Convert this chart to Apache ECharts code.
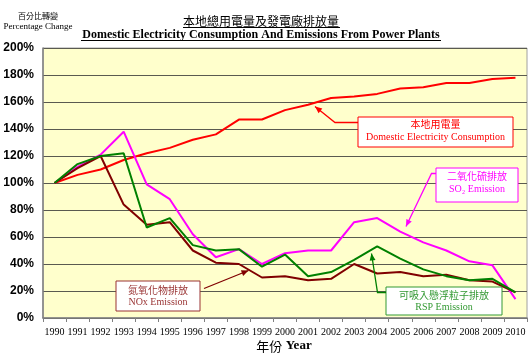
<!DOCTYPE html>
<html><head><meta charset="utf-8">
<script src="https://cdn.jsdelivr.net/npm/echarts@6/dist/echarts.min.js"></script>
<style>html,body{margin:0;padding:0;background:#fff}#c{width:530px;height:360px}</style>
</head><body><div id="c"></div>
<script>
var years = ['1990','1991','1992','1993','1994','1995','1996','1997','1998','1999','2000','2001','2002','2003','2004','2005','2006','2007','2008','2009','2010'];
var electricity = [100,106,110,117,122,126,132,136,147,147,154,158,163,164,166,170,171,174,174,177,178];
var so2 = [100,112,121,138,99,88,62,45,51,40,48,50,50,71,74,64,56,50,42,39,14];
var nox = [100,111,120,84,69,71,50,41,40,30,31,28,29,40,33,34,31,32,28,27,19];
var rsp = [100,114,120,122,67,74,54,50,51,38,47,31,34,43,53,44,36,31,28,29,19];
var yTicks = [0,20,40,60,80,100,120,140,160,180,200];

var chart = echarts.init(document.getElementById('c'));
var serif = '"Liberation Serif","Times New Roman",serif';
var cjk = '"Noto Sans CJK TC","Noto Sans CJK SC",sans-serif';

function arrowHead(x1,y1,x2,y2,color){
  var dx=x2-x1, dy=y2-y1, L=Math.sqrt(dx*dx+dy*dy); dx/=L; dy/=L;
  var len=7, w=3;
  var bx=x2-dx*len, by=y2-dy*len;
  return {type:'polygon', z:100, shape:{points:[[x2,y2],[bx-dy*w,by+dx*w],[bx+dy*w,by-dx*w]]}, style:{fill:color}};
}
function arrow(pts,color){
  var n=pts.length;
  return [
    {type:'polyline', z:100, shape:{points:pts}, style:{stroke:color, lineWidth:1.3, fill:null}},
    arrowHead(pts[n-2][0],pts[n-2][1],pts[n-1][0],pts[n-1][1],color)
  ];
}
function box(x1,y1,x2,y2,color,l1,l2,y1t,y2t){
  var cx=(x1+x2)/2;
  return [
    {type:'rect', z:100, shape:{x:x1,y:y1,width:x2-x1,height:y2-y1}, style:{fill:'#fff', stroke:color, lineWidth:1}},
    {type:'text', z:101, x:cx, y:y1t, style:{text:l1, fill:color, font:'10px '+cjk, textAlign:'center', textVerticalAlign:'middle'}},
    {type:'text', z:101, x:cx, y:y2t, style:{text:l2, fill:color, font:'10px '+serif, textAlign:'center', textVerticalAlign:'middle'}}
  ];
}

var graphics = [
  {type:'text', x:261, y:21, style:{text:'本地總用電量及發電廠排放量', fill:'#000', font:'12px '+cjk, textAlign:'center', textVerticalAlign:'middle'}},
  {type:'line', shape:{x1:183,y1:27.5,x2:340,y2:27.5}, style:{stroke:'#000', lineWidth:1}},
  {type:'text', x:261, y:34.5, style:{text:'Domestic Electricity Consumption And Emissions From Power Plants', fill:'#000', font:'bold 12px '+serif, textAlign:'center', textVerticalAlign:'middle'}},
  {type:'line', shape:{x1:81,y1:40.5,x2:441,y2:40.5}, style:{stroke:'#000', lineWidth:1}},
  {type:'text', x:38, y:16, style:{text:'百分比轉變', fill:'#000', font:'8px '+cjk, textAlign:'center', textVerticalAlign:'middle'}},
  {type:'text', x:38, y:27, style:{text:'Percentage Change', fill:'#000', font:'9px '+serif, textAlign:'center', textVerticalAlign:'middle'}},
  {type:'text', x:284, y:346, style:{rich:{a:{font:'13px '+cjk, fill:'#000'}, b:{font:'bold 13px '+serif, fill:'#000'}}, text:'{a|年份} {b|Year}', textAlign:'center', textVerticalAlign:'middle'}}
];
graphics = graphics
  .concat(box(358,117,513,147,'#FF0000','本地用電量','Domestic Electricity Consumption',124,137))
  .concat(arrow([[358,122.5],[335,122.5],[315,106.5]],'#FF0000'))
  .concat(box(436,168,518,202,'#FF00FF','二氧化硫排放','SO₂ Emission',176,189))
  .concat(arrow([[436,173.5],[431.5,173.5],[406,226.5]],'#FF00FF'))
  .concat(box(116,281,200,311,'#993333','氮氧化物排放','NOx Emission',290,302))
  .concat(arrow([[204,288.5],[248.5,270.5]],'#800000'))
  .concat(box(386,287,502,315,'#339933','可吸入懸浮粒子排放','RSP Emission',295,307.5))
  .concat(arrow([[386,292.5],[377.5,292.5],[371.5,253.5]],'#008000'));

chart.setOption({
  animation:false,
  grid:{left:43, right:3, top:48, bottom:42, show:true, backgroundColor:'#FFFFCC', borderColor:'#a0a0a0', borderWidth:1},
  xAxis:{type:'category', data:years, boundaryGap:true,
    axisLine:{lineStyle:{color:'#808080', width:1.5}},
    axisTick:{show:true, length:4, lineStyle:{color:'#808080'}},
    axisLabel:{color:'#000', fontFamily:serif, fontSize:10, margin:9, interval:0}},
  yAxis:{type:'value', min:yTicks[0], max:yTicks[yTicks.length-1], interval:20,
    axisLine:{show:true, lineStyle:{color:'#808080', width:1.5}},
    axisTick:{show:false},
    axisLabel:{color:'#000', fontFamily:'"Liberation Sans",Arial,sans-serif', fontWeight:'bold', fontSize:12, margin:9, formatter:'{value}%'},
    splitLine:{lineStyle:{color:'#5a5a50', width:1}}},
  series:[
    {type:'line', data:electricity, symbol:'none', lineStyle:{color:'#FF0000', width:2}, z:2},
    {type:'line', data:so2, symbol:'none', lineStyle:{color:'#FF00FF', width:2}, z:3},
    {type:'line', data:nox, symbol:'none', lineStyle:{color:'#800000', width:2}, z:4},
    {type:'line', data:rsp, symbol:'none', lineStyle:{color:'#008000', width:2}, z:5}
  ],
  graphic:graphics
});
</script></body></html>
